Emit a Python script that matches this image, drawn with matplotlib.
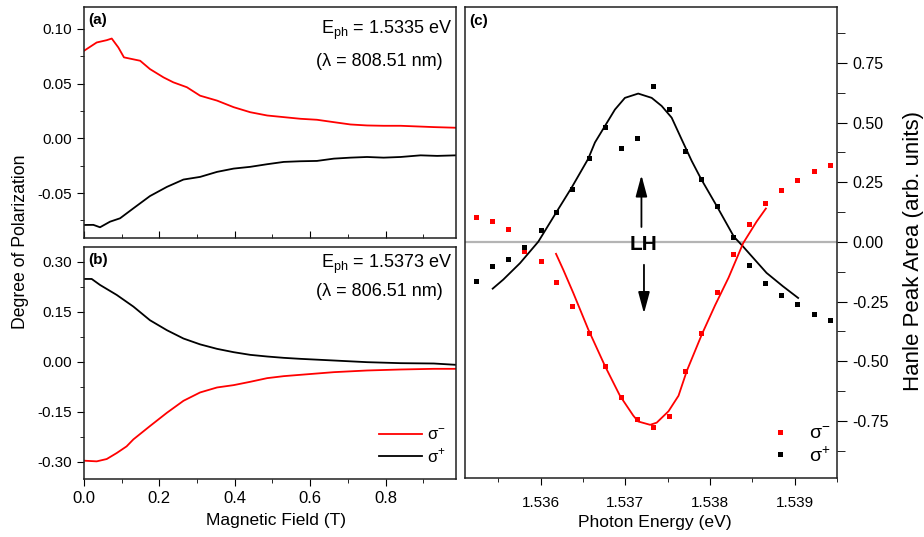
import matplotlib
matplotlib.use("Agg")
import matplotlib.pyplot as plt
from matplotlib.ticker import MultipleLocator

plt.rcParams['font.family'] = ['Liberation Sans', 'DejaVu Sans']

# ---------------- data ----------------
# panel (a)
a_red_x = [0.0, 0.0337, 0.0603, 0.0736, 0.0912, 0.106, 0.149, 0.175, 0.211, 0.237, 0.273, 0.308,
           0.353, 0.397, 0.441, 0.486, 0.530, 0.574, 0.618, 0.663, 0.707, 0.751, 0.795, 0.840,
           0.884, 0.928, 0.987]
a_red_y = [0.080, 0.0876, 0.0897, 0.0912, 0.083, 0.074, 0.0709, 0.0633, 0.0557, 0.0512, 0.0467, 0.039,
           0.0345, 0.0285, 0.0239, 0.0209, 0.0194, 0.0179, 0.017, 0.0148, 0.0127, 0.0118, 0.0115, 0.0115,
           0.0109, 0.0103, 0.0097]
a_blk_x = [0.0, 0.0248, 0.0425, 0.069, 0.0957, 0.131, 0.175, 0.220, 0.264, 0.308, 0.353, 0.397,
           0.441, 0.486, 0.530, 0.574, 0.618, 0.663, 0.707, 0.751, 0.795, 0.840, 0.893, 0.937, 0.987]
a_blk_y = [-0.0791, -0.079, -0.0812, -0.0761, -0.073, -0.0639, -0.0527, -0.0443, -0.0376, -0.0352,
           -0.0306, -0.0276, -0.026, -0.0236, -0.0215, -0.0209, -0.0206, -0.0185, -0.0176, -0.017,
           -0.0176, -0.017, -0.0155, -0.016, -0.0155]
# panel (b)
b_blk_x = [0.0, 0.0204, 0.0425, 0.0868, 0.131, 0.175, 0.220, 0.264, 0.308, 0.353, 0.397, 0.441,
           0.486, 0.530, 0.574, 0.663, 0.751, 0.840, 0.928, 0.987]
b_blk_y = [0.249, 0.249, 0.231, 0.201, 0.166, 0.125, 0.095, 0.070, 0.0525, 0.039, 0.029, 0.021,
           0.016, 0.012, 0.009, 0.004, -0.001, -0.004, -0.005, -0.009]
b_red_x = [0.0, 0.0337, 0.0603, 0.0868, 0.113, 0.131, 0.175, 0.220, 0.264, 0.308, 0.353, 0.397,
           0.441, 0.486, 0.530, 0.574, 0.663, 0.751, 0.840, 0.928, 0.987]
b_red_y = [-0.297, -0.299, -0.292, -0.274, -0.254, -0.233, -0.193, -0.153, -0.117, -0.092, -0.077,
           -0.070, -0.060, -0.049, -0.043, -0.039, -0.031, -0.026, -0.023, -0.021, -0.021]
# panel (c) measured points
c_energy = [1.535236, 1.535421, 1.535617, 1.535806, 1.536000, 1.536181, 1.536375, 1.536567,
            1.536756, 1.536944, 1.537133, 1.537322, 1.537512, 1.537701, 1.537888, 1.538079,
            1.538273, 1.538462, 1.538651, 1.538843, 1.539033, 1.539224, 1.539416]
c_sigma_plus = [-0.1625, -0.103, -0.072, -0.022, 0.051, 0.125, 0.222, 0.353, 0.483, 0.393, 0.435,
                0.653, 0.557, 0.382, 0.265, 0.149, 0.022, -0.095, -0.174, -0.222, -0.261, -0.301, -0.326]
c_sigma_minus = [0.103, 0.089, 0.053, -0.040, -0.079, -0.170, -0.268, -0.380, -0.520, -0.649, -0.742,
                 -0.778, -0.729, -0.543, -0.383, -0.208, -0.051, 0.075, 0.165, 0.217, 0.261, 0.297, 0.321]
# panel (c) fit curves
fit_plus_x = [1.535433, 1.535558, 1.535756, 1.535972, 1.536181, 1.536366, 1.536562, 1.536641,
              1.536759, 1.536877, 1.536995, 1.537152, 1.537311, 1.537429, 1.537547, 1.537665,
              1.537783, 1.537893, 1.538085, 1.538282, 1.538392, 1.538668, 1.538861, 1.539041]
fit_plus_y = [-0.196, -0.158, -0.089, 0.001, 0.122, 0.228, 0.349, 0.417, 0.486, 0.555, 0.604, 0.622,
              0.604, 0.570, 0.521, 0.430, 0.340, 0.265, 0.147, 0.022, -0.020, -0.130, -0.186, -0.235]
fit_minus_x = [1.536181, 1.536267, 1.536385, 1.536562, 1.536759, 1.536936, 1.537093, 1.537152,
               1.537293, 1.537370, 1.537510, 1.537628, 1.537727, 1.537904, 1.538061, 1.538219,
               1.538392, 1.538550, 1.538660]
fit_minus_y = [-0.050, -0.117, -0.214, -0.367, -0.520, -0.645, -0.728, -0.753, -0.767, -0.758,
               -0.710, -0.645, -0.540, -0.3875, -0.265, -0.150, -0.005, 0.085, 0.140]

RED = '#ff0000'
BLK = '#000000'

fig = plt.figure(figsize=(9.24, 5.37), dpi=100)
W, H = 924, 537


def ax_rect(l, t, r, b):
    return [l / W, 1 - b / H, (r - l) / W, (b - t) / H]


axa = fig.add_axes(ax_rect(84, 7, 456, 238))
axb = fig.add_axes(ax_rect(84, 247, 456, 479))
axc = fig.add_axes(ax_rect(465, 7, 837, 478))

for ax in (axa, axb, axc):
    for s in ax.spines.values():
        s.set_linewidth(1.1)
        s.set_color('#202020')

# ---- panel (a)
axa.plot(a_red_x, a_red_y, color=RED, lw=1.3)
axa.plot(a_blk_x, a_blk_y, color=BLK, lw=1.3)
axa.set_xlim(0, 0.987)
axa.set_ylim(-0.091, 0.12)
axa.set_yticks([0.10, 0.05, 0.00, -0.05])
axa.set_yticklabels(['0.10', '0.05', '0.00', '-0.05'])
axa.yaxis.set_minor_locator(MultipleLocator(0.025))
axa.xaxis.set_major_locator(MultipleLocator(0.2))
axa.xaxis.set_minor_locator(MultipleLocator(0.1))
axa.tick_params(axis='y', which='major', direction='out', length=5, labelsize=11)
axa.tick_params(axis='y', which='minor', direction='out', length=3)
axa.tick_params(axis='x', which='both', direction='in', labelbottom=False)
axa.tick_params(axis='x', which='major', length=5)
axa.tick_params(axis='x', which='minor', length=3)
axa.text(0.012, 0.975, '(a)', transform=axa.transAxes, fontsize=11, fontweight='bold', va='top', ha='left')
axa.text(0.99, 0.95, r'E$_{\mathregular{ph}}$ = 1.5335 eV', transform=axa.transAxes, fontsize=13,
         va='top', ha='right')
axa.text(0.965, 0.80, '(λ = 808.51 nm)', transform=axa.transAxes, fontsize=13, va='top', ha='right')

# ---- panel (b)
axb.plot(b_red_x, b_red_y, color=RED, lw=1.3, label='σ$^{\\mathregular{-}}$')
axb.plot(b_blk_x, b_blk_y, color=BLK, lw=1.3, label='σ$^{\\mathregular{+}}$')
axb.set_xlim(0, 0.987)
axb.set_ylim(-0.352, 0.345)
axb.set_yticks([0.30, 0.15, 0.00, -0.15, -0.30])
axb.set_yticklabels(['0.30', '0.15', '0.00', '-0.15', '-0.30'])
axb.yaxis.set_minor_locator(MultipleLocator(0.075))
axb.set_xticks([0.0, 0.2, 0.4, 0.6, 0.8])
axb.set_xticklabels(['0.0', '0.2', '0.4', '0.6', '0.8'])
axb.xaxis.set_minor_locator(MultipleLocator(0.1))
axb.tick_params(axis='both', which='major', direction='out', length=5)
axb.tick_params(axis='both', which='minor', direction='out', length=3)
axb.tick_params(axis='y', labelsize=11)
axb.tick_params(axis='x', labelsize=12)
axb.text(0.012, 0.975, '(b)', transform=axb.transAxes, fontsize=11, fontweight='bold', va='top', ha='left')
axb.text(0.99, 0.975, r'E$_{\mathregular{ph}}$ = 1.5373 eV', transform=axb.transAxes, fontsize=13,
         va='top', ha='right')
axb.text(0.965, 0.845, '(λ = 806.51 nm)', transform=axb.transAxes, fontsize=13, va='top', ha='right')
axb.legend(loc='lower right', bbox_to_anchor=(1.0, 0.018), frameon=False, fontsize=12,
           handlelength=2.6, handletextpad=0.3, labelspacing=0.2, borderaxespad=0.2)

fig.text(21 / W, 1 - 242 / H, 'Degree of Polarization', rotation=90, fontsize=12.7,
         ha='center', va='center')
fig.text(276 / W, 1 - 521 / H, 'Magnetic Field (T)', fontsize=12.5, ha='center', va='center')

# ---- panel (c)
axc.axhline(0, color='#b4b4b4', lw=1.6, zorder=1)
axc.plot(fit_plus_x, fit_plus_y, color=BLK, lw=1.3, zorder=2)
axc.plot(fit_minus_x, fit_minus_y, color=RED, lw=1.3, zorder=2)
axc.plot(c_energy, c_sigma_minus, 's', color=RED, ms=3.6, mew=0, label='σ$^{\\mathregular{-}}$', zorder=3)
axc.plot(c_energy, c_sigma_plus, 's', color=BLK, ms=3.6, mew=0, label='σ$^{\\mathregular{+}}$', zorder=3)
axc.set_xlim(1.535106, 1.5395)
axc.set_ylim(-0.99, 0.985)
axc.set_xticks([1.536, 1.537, 1.538, 1.539])
axc.set_xticklabels(['1.536', '1.537', '1.538', '1.539'])
axc.xaxis.set_minor_locator(MultipleLocator(0.0005))
axc.set_yticks([0.75, 0.50, 0.25, 0.00, -0.25, -0.50, -0.75])
axc.set_yticklabels(['0.75', '0.50', '0.25', '0.00', '-0.25', '-0.50', '-0.75'])
axc.yaxis.set_minor_locator(MultipleLocator(0.125))
axc.yaxis.tick_right()
axc.tick_params(axis='x', which='major', direction='out', length=5, labelsize=11, pad=8)
axc.tick_params(axis='x', which='minor', direction='out', length=3)
axc.tick_params(axis='y', which='major', direction='out', length=7, labelsize=11.5, pad=4)
axc.tick_params(axis='y', which='minor', direction='out', length=6)
axc.tick_params(axis='y', which='both', left=False, right=True)
fig.text(655 / W, 1 - 523 / H, 'Photon Energy (eV)', fontsize=12.6, ha='center', va='center')
fig.text(913 / W, 1 - 251 / H, 'Hanle Peak Area (arb. units)', rotation=90, fontsize=16,
         ha='center', va='center')
axc.text(0.012, 0.985, '(c)', transform=axc.transAxes, fontsize=11, fontweight='bold', va='top', ha='left')
axc.text(1.53721, -0.0125, 'LH', fontsize=15, fontweight='bold', ha='center', va='center')
axc.annotate('', xy=(1.53719, 0.28), xytext=(1.53719, 0.0625),
             arrowprops=dict(arrowstyle='-|>,head_length=1.3,head_width=0.35', color=BLK, lw=1.3,
                             shrinkA=0, shrinkB=0))
axc.annotate('', xy=(1.53722, -0.30), xytext=(1.53722, -0.096),
             arrowprops=dict(arrowstyle='-|>,head_length=1.3,head_width=0.35', color=BLK, lw=1.3,
                             shrinkA=0, shrinkB=0))
axc.legend(loc='lower right', bbox_to_anchor=(1.03, -0.01), frameon=False, fontsize=14,
           handlelength=1.2, handletextpad=0.9, labelspacing=0.1, markerscale=1.0)

fig.savefig('out.png', dpi=100)
